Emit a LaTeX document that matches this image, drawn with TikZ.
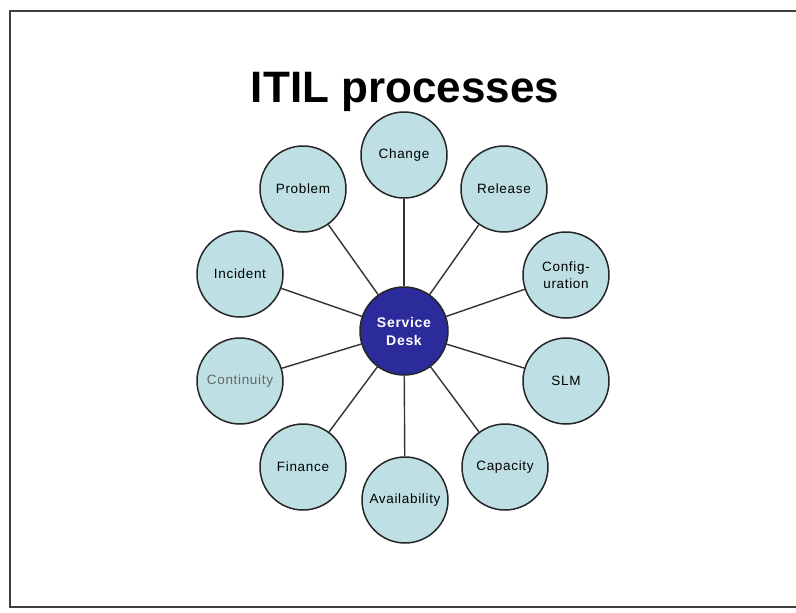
\documentclass[tikz,border=0pt]{standalone}
\usepackage{fontspec}
\setmainfont{Liberation Sans}
\newfontfamily\labelfont[LetterSpace=5]{Liberation Sans}
\newfontfamily\titlefont{Liberation Sans}
\definecolor{procfill}{RGB}{190,224,228}
\definecolor{deskfill}{RGB}{43,43,155}
\definecolor{framegray}{RGB}{64,64,64}
\tikzset{
  proc/.style={circle, draw=black!85, line width=1.5pt, fill=procfill, minimum size=86pt, inner sep=0pt, font=\labelfont\fontsize{13.5}{17}\selectfont, align=center, text=black},
  desk/.style={circle, draw=black!85, line width=1.5pt, fill=deskfill, minimum size=88pt, inner sep=0pt, font=\labelfont\bfseries\fontsize{14}{18}\selectfont, align=center, text=white},
  link/.style={draw=black!80, line width=1.4pt}
}
\begin{document}
\begin{tikzpicture}[x=1pt,y=-1pt]
\useasboundingbox (0,0) rectangle (796,613);
\fill[white] (0,0) rectangle (796,613);
\draw[framegray, line width=2pt] (800,10.5) -- (9.5,10.5) -- (9.5,606.5) -- (800,606.5);
\node[font=\titlefont\bfseries\fontsize{44}{50}\selectfont, anchor=base] (title) at (405,102) {ITIL processes};
\node[desk] (sd) at (404,331) {Service\\Desk};
\node[proc] (change) at (404,155) {Change};
\node[proc] (release) at (504,189) {Release};
\node[proc] (config) at (566,275) {Config-\\uration};
\node[proc] (slm) at (566,381) {SLM};
\node[proc] (capacity) at (505,467) {Capacity};
\node[proc] (avail) at (405,500) {Availability};
\node[proc] (finance) at (303,467) {Finance};
\node[proc, text=black!60] (continuity) at (240,381) {Continuity};
\node[proc] (incident) at (240,274) {Incident};
\node[proc] (problem) at (303,189) {Problem};
\foreach \n in {change,release,config,slm,capacity,avail,finance,continuity,incident,problem}
  \draw[link] (sd) -- (\n);
\end{tikzpicture}
\end{document}
